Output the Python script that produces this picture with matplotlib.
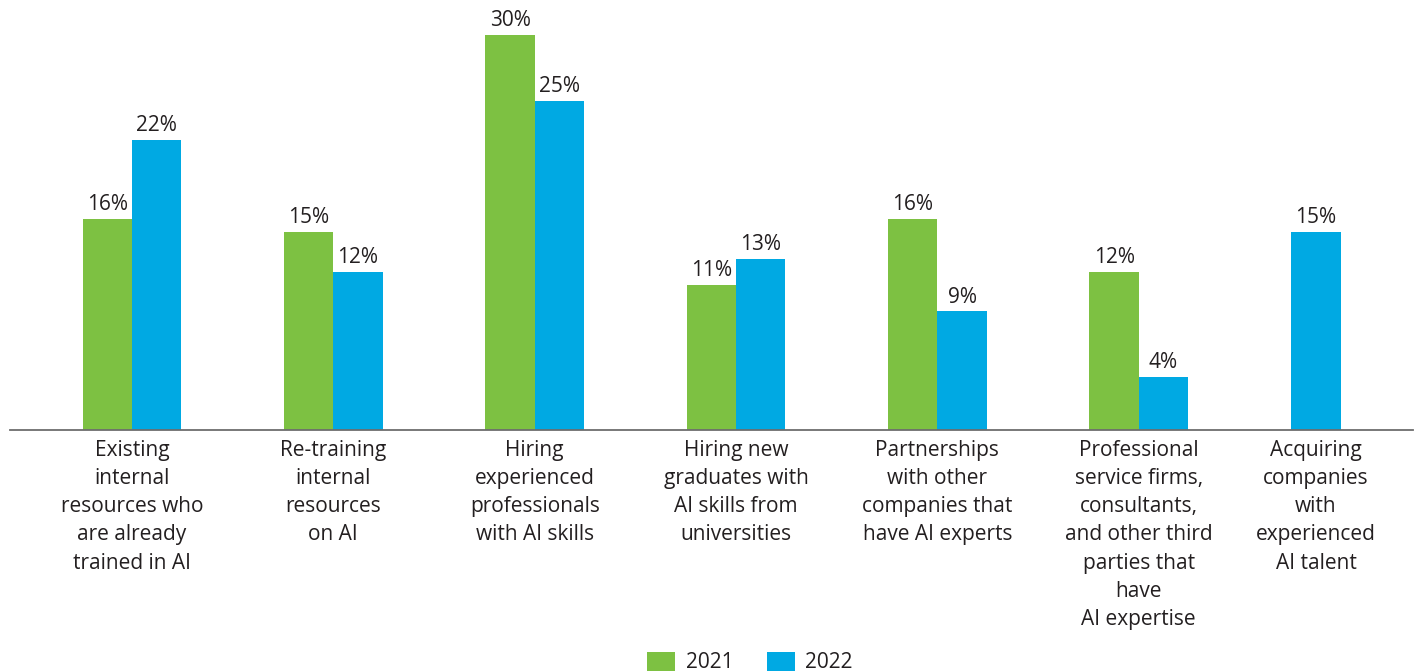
import matplotlib
matplotlib.use("Agg")
import matplotlib.pyplot as plt
import numpy as np
from matplotlib.patches import Patch

plt.rcParams['font.family'] = ['Open Sans', 'DejaVu Sans']

categories = [
    "Existing\ninternal\nresources who\nare already\ntrained in AI",
    "Re-training\ninternal\nresources\non AI",
    "Hiring\nexperienced\nprofessionals\nwith AI skills",
    "Hiring new\ngraduates with\nAI skills from\nuniversities",
    "Partnerships\nwith other\ncompanies that\nhave AI experts",
    "Professional\nservice firms,\nconsultants,\nand other third\nparties that\nhave\nAI expertise",
    "Acquiring\ncompanies\nwith\nexperienced\nAI talent",
]
values_2021 = [16, 15, 30, 11, 16, 12, None]
values_2022 = [22, 12, 25, 13, 9, 4, 15]
series_names = ["2021", "2022"]

GREEN = "#7DC142"
BLUE = "#00A9E3"
TEXT = "#231F20"

W, H = 1417, 672
fig = plt.figure(figsize=(W / 100, H / 100), dpi=100)
ax = fig.add_axes([10 / W, 1 - 430 / H, (1413 - 10) / W, 430 / H])

x = np.arange(len(categories), dtype=float)
x[-1] -= 0.12  # last group holds a single bar
bw = 0.245

for i, xi in enumerate(x):
    v21, v22 = values_2021[i], values_2022[i]
    pairs = []
    if v21 is not None and v22 is not None:
        pairs = [(xi - bw / 2, v21, GREEN), (xi + bw / 2, v22, BLUE)]
    elif v21 is not None:
        pairs = [(xi, v21, GREEN)]
    elif v22 is not None:
        pairs = [(xi, v22, BLUE)]
    for px, v, color in pairs:
        ax.bar(px, v, width=bw, color=color, linewidth=0)
        ax.text(px, v + 0.3, f"{v}%", ha="center", va="bottom",
                fontsize=15, color=TEXT)

ax.set_xlim(-0.606, 6.362)
ax.set_ylim(0, 430 / 13.17)

for s in ["top", "right", "left"]:
    ax.spines[s].set_visible(False)
ax.spines["bottom"].set_color("#6d6d6d")
ax.spines["bottom"].set_linewidth(1.3)
ax.set_yticks([])
ax.set_xticks(x)
ax.set_xticklabels(categories, fontsize=15, color=TEXT, linespacing=1.45)
ax.tick_params(axis="x", length=0, pad=7)

handles = [Patch(facecolor=GREEN, edgecolor="none"), Patch(facecolor=BLUE, edgecolor="none")]
fig.legend(handles, series_names, loc="lower center", bbox_to_anchor=(750 / W, -0.03),
           ncol=2, frameon=False, fontsize=15, handlelength=1.35, handleheight=1.0,
           handletextpad=0.5, columnspacing=1.6, labelcolor=TEXT)

fig.savefig("out.png", dpi=100)
